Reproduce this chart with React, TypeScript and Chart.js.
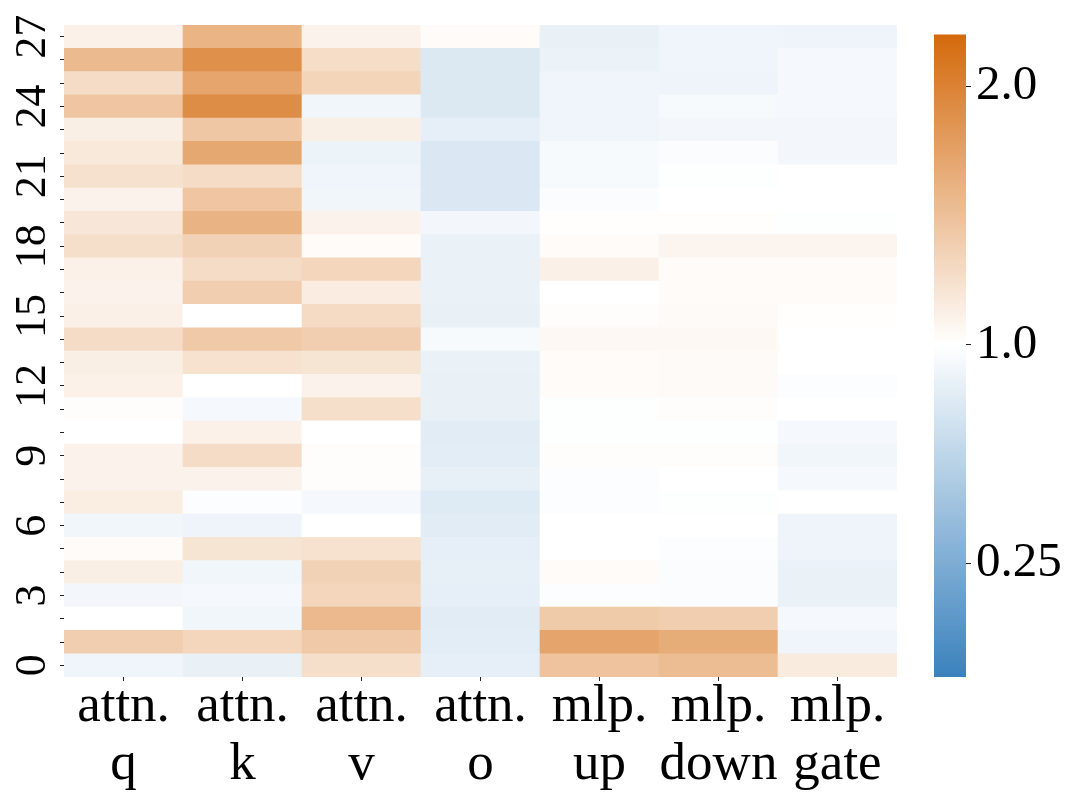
import React, { useEffect, useRef } from 'react';
import { Chart, registerables } from 'chart.js';

Chart.register(...registerables);

// ---- data ----
const columnLabels: string[][] = [
  ['attn.', 'q'],
  ['attn.', 'k'],
  ['attn.', 'v'],
  ['attn.', 'o'],
  ['mlp.', 'up'],
  ['mlp.', 'down'],
  ['mlp.', 'gate'],
];

const layers = [0, 1, 2, 3, 4, 5, 6, 7, 8, 9, 10, 11, 12, 13, 14, 15, 16, 17, 18, 19, 20, 21, 22, 23, 24, 25, 26, 27];
const yTickLayers = [0, 3, 6, 9, 12, 15, 18, 21, 24, 27];
const yTickLabels = ['0', '3', '6', '9', '12', '15', '18', '21', '24', '27'];

// values per column, layer 0 .. 27
const attnQ = [0.91, 1.39, 1.0, 0.93, 1.13, 1.03, 0.92, 1.14, 1.1, 1.1, 1.0, 1.02, 1.11, 1.13, 1.28, 1.12, 1.1, 1.11, 1.26, 1.19, 1.1, 1.24, 1.18, 1.13, 1.46, 1.28, 1.55, 1.11];
const attnK = [0.87, 1.33, 0.92, 0.94, 0.92, 1.21, 0.9, 0.98, 1.1, 1.28, 1.11, 0.94, 1.0, 1.23, 1.43, 1.0, 1.39, 1.28, 1.36, 1.61, 1.46, 1.28, 1.7, 1.45, 1.91, 1.72, 1.89, 1.6];
const attnV = [1.26, 1.43, 1.56, 1.33, 1.36, 1.23, 1.0, 0.94, 1.02, 1.02, 1.0, 1.26, 1.1, 1.21, 1.39, 1.29, 1.15, 1.33, 1.03, 1.1, 0.92, 0.91, 0.89, 1.13, 0.92, 1.34, 1.27, 1.1];
const attnO = [0.855, 0.835, 0.83, 0.855, 0.86, 0.855, 0.83, 0.81, 0.86, 0.835, 0.83, 0.87, 0.87, 0.88, 0.95, 0.87, 0.88, 0.88, 0.88, 0.93, 0.79, 0.79, 0.79, 0.855, 0.8, 0.8, 0.8, 1.03];
const mlpUp = [1.48, 1.73, 1.42, 0.98, 1.03, 1.0, 1.0, 0.98, 0.98, 1.02, 0.99, 0.99, 1.03, 1.03, 1.06, 1.02, 1.0, 1.12, 1.03, 1.01, 0.975, 0.95, 0.95, 0.91, 0.91, 0.91, 0.885, 0.87];
const mlpDown = [1.53, 1.66, 1.39, 0.97, 0.97, 0.98, 1.0, 0.99, 1.0, 1.02, 0.99, 1.02, 1.04, 1.04, 1.06, 1.04, 1.03, 1.03, 1.08, 1.01, 1.0, 0.99, 0.975, 0.93, 0.95, 0.9, 0.91, 0.91];
const mlpGate = [1.16, 0.91, 0.94, 0.88, 0.88, 0.9, 0.9, 1.0, 0.94, 0.92, 0.94, 1.0, 0.98, 1.0, 1.0, 1.01, 1.03, 1.03, 1.08, 0.99, 1.0, 1.0, 0.93, 0.93, 0.94, 0.94, 0.94, 0.9];

const columnValues = [attnQ, attnK, attnV, attnO, mlpUp, mlpDown, mlpGate];

// colour bar
const vMin = -0.14;
const vCenter = 1.0;
const vMax = 2.2;
const cbTicks = [0.25, 1.0, 2.0];
const cbTickLabels = ['0.25', '1.0', '2.0'];

// ---- colour mapping ----
const CENTER_T = 0.517;
const LOW_RGB = [58, 130, 189];
const MID_RGB = [255, 255, 255];
const HIGH_RGB = [212, 105, 11];

function norm(v: number): number {
  if (v <= vCenter) {
    return Math.max(0, CENTER_T * (v - vMin) / (vCenter - vMin));
  }
  return Math.min(1, CENTER_T + (1 - CENTER_T) * (v - vCenter) / (vMax - vCenter));
}

function colorAtT(t: number): string {
  let a: number[], b: number[], f: number;
  if (t <= CENTER_T) {
    a = LOW_RGB; b = MID_RGB; f = t / CENTER_T;
  } else {
    a = MID_RGB; b = HIGH_RGB; f = (t - CENTER_T) / (1 - CENTER_T);
  }
  const c = a.map((x, i) => Math.round(x + (b[i] - x) * f));
  return `rgb(${c[0]},${c[1]},${c[2]})`;
}

function colorOf(v: number): string {
  return colorAtT(norm(v));
}

const FONT = "'Liberation Serif', 'Times New Roman', serif";

const yLabelPlugin = {
  id: 'yRotLabels',
  afterDraw(chart: any) {
    const s = chart.scales.y;
    const ctx = chart.ctx;
    ctx.save();
    ctx.font = `44px ${FONT}`;
    ctx.fillStyle = '#000';
    ctx.textAlign = 'center';
    ctx.textBaseline = 'alphabetic';
    yTickLayers.forEach((v, i) => {
      const y = s.getPixelForValue(v);
      ctx.save();
      ctx.translate(45, y);
      ctx.rotate(-Math.PI / 2);
      ctx.fillText(yTickLabels[i], 0, 0);
      ctx.restore();
    });
    ctx.restore();
  },
};

export default function App() {
  const mainRef = useRef<HTMLCanvasElement>(null);
  const cbRef = useRef<HTMLCanvasElement>(null);

  useEffect(() => {
    document.body.style.margin = '0';
    const main = new Chart(mainRef.current!, {
      type: 'bar',
      data: {
        labels: columnLabels as any,
        datasets: layers.map((r) => ({
          label: `layer ${r}`,
          data: columnValues.map(() => [r - 0.5, r + 0.5]) as any,
          backgroundColor: columnValues.map((col) => colorOf(col[r])),
          borderWidth: 0,
          barPercentage: 1,
          categoryPercentage: 1,
        })),
      },
      options: {
        responsive: false,
        maintainAspectRatio: false,
        animation: false,
        layout: { padding: { left: 0, top: 25, right: 183, bottom: 0 } },
        plugins: { legend: { display: false }, tooltip: { enabled: false } },
        scales: {
          x: {
            type: 'category',
            stacked: true,
            grid: { display: true, offset: false, drawOnChartArea: false, drawTicks: true, tickLength: 4, color: '#222', lineWidth: 1 },
            border: { display: false },
            ticks: {
              font: { family: FONT, size: 53, lineHeight: 1.094 },
              color: '#000',
              padding: -3,
              maxRotation: 0,
              minRotation: 0,
              autoSkip: false,
            },
            afterFit: (s: any) => { s.height = 133; },
          },
          y: {
            type: 'linear',
            stacked: false,
            min: -0.5,
            max: 27.5,
            afterBuildTicks: (s: any) => { s.ticks = layers.map((v) => ({ value: v })); },
            grid: { display: true, drawOnChartArea: false, drawTicks: true, tickLength: 4, color: '#222', lineWidth: 1 },
            border: { display: false },
            ticks: { callback: () => '', autoSkip: false, padding: 0 },
            afterFit: (s: any) => { s.width = 64; },
          },
        },
      },
      plugins: [yLabelPlugin],
    });

    const cb = new Chart(cbRef.current!, {
      type: 'bar',
      data: {
        labels: [''],
        datasets: [{
          data: [[norm(vMin), norm(vMax)]] as any,
          backgroundColor: (ctx: any) => {
            const area = ctx.chart.chartArea;
            if (!area) return '#fff';
            const g = ctx.chart.ctx.createLinearGradient(0, area.bottom, 0, area.top);
            const n = 40;
            for (let i = 0; i <= n; i++) {
              const t = i / n;
              g.addColorStop(t, colorAtT(t));
            }
            g.addColorStop(CENTER_T, colorAtT(CENTER_T));
            return g;
          },
          borderWidth: 0,
          barPercentage: 1,
          categoryPercentage: 1,
        }],
      },
      options: {
        responsive: false,
        maintainAspectRatio: false,
        animation: false,
        layout: { padding: { left: 34, top: 25, right: 0, bottom: 133 } },
        plugins: { legend: { display: false }, tooltip: { enabled: false } },
        scales: {
          x: { type: 'category', display: false },
          y: {
            type: 'linear',
            position: 'right',
            min: 0,
            max: 1,
            afterBuildTicks: (s: any) => { s.ticks = cbTicks.map((v) => ({ value: norm(v) })); },
            grid: { display: true, drawOnChartArea: false, drawTicks: true, tickLength: 5, color: '#222', lineWidth: 1 },
            border: { display: false },
            ticks: {
              callback: (_v: any, i: number) => cbTickLabels[i],
              font: { family: FONT, size: 49 },
              color: '#000',
              padding: 5,
              autoSkip: false,
            },
            afterFit: (s: any) => { s.width = 114; },
          },
        },
      },
    });

    return () => { main.destroy(); cb.destroy(); };
  }, []);

  return (
    <div style={{ position: 'relative', width: 1080, height: 810, background: '#fff' }}>
      <canvas ref={mainRef} width={1080} height={810} style={{ position: 'absolute', left: 0, top: 0 }} />
      <canvas ref={cbRef} width={180} height={810} style={{ position: 'absolute', left: 900, top: 0 }} />
    </div>
  );
}
